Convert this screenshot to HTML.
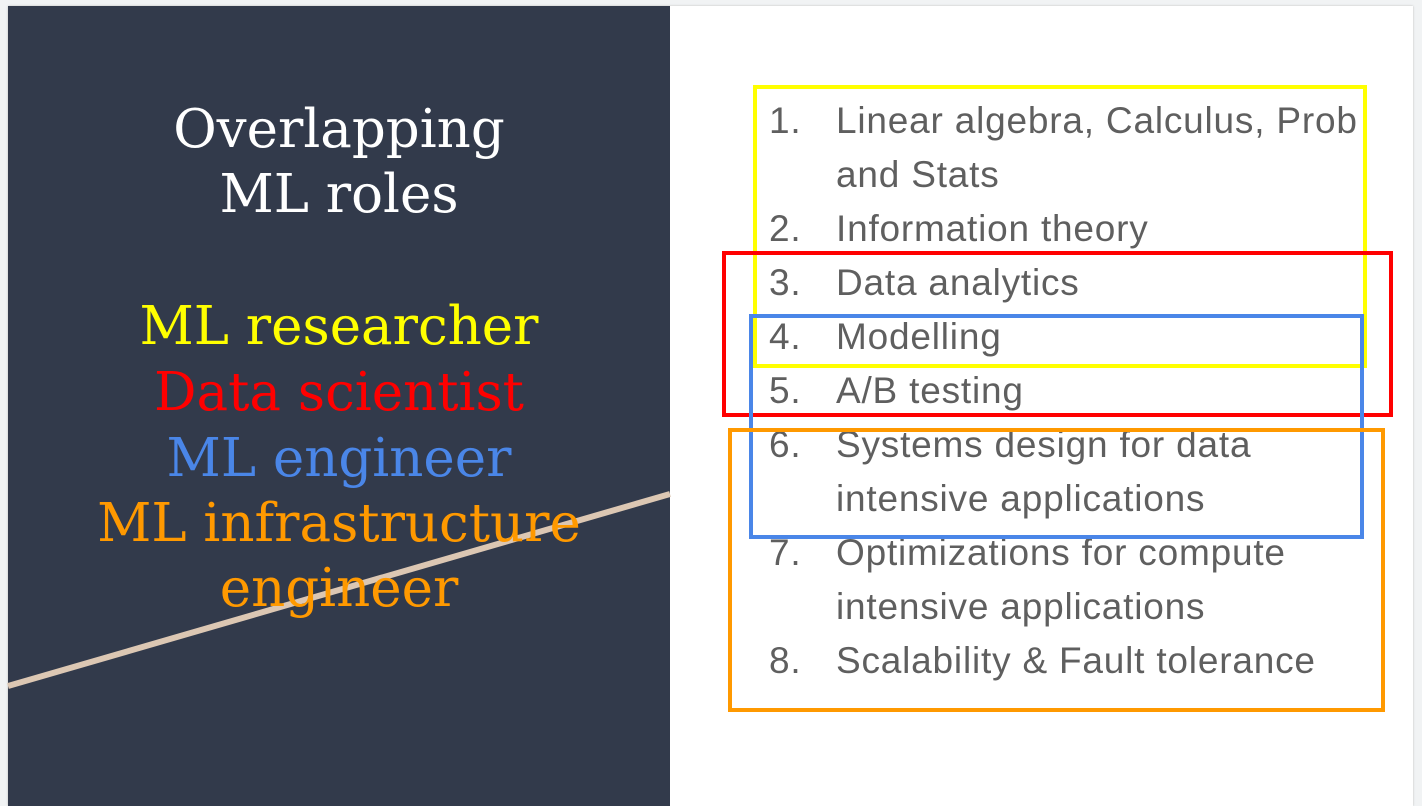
<!DOCTYPE html>
<html><head><meta charset="utf-8"><style>
html,body{margin:0;padding:0;width:1422px;height:796px;overflow:hidden;background:#f1f3f4;}
.slide{position:absolute;left:8px;top:6px;width:1405px;height:800px;background:#fff;box-shadow:0 0 2px #bbb;}
.dark{position:absolute;left:8px;top:6px;width:662px;height:800px;background:#323a4b;}
.l{position:absolute;left:8px;width:662px;text-align:center;font-family:"DejaVu Serif","Liberation Serif",serif;font-size:53px;line-height:60px;height:60px;white-space:nowrap;}
.r{position:absolute;font-family:"Liberation Sans",Arial,sans-serif;font-size:37px;letter-spacing:0.8px;line-height:44px;height:44px;color:#5f5f5f;white-space:nowrap;}
.n{left:769px}.t{left:836px}
.box{position:absolute;border:4px solid;box-sizing:border-box;}
</style></head><body>
<div class="slide"></div>
<div class="dark"></div>
<svg style="position:absolute;left:0;top:0" width="1422" height="796"><line x1="8" y1="686" x2="670" y2="494" stroke="#dcc7b3" stroke-width="6"/></svg>
<div class="l" style="top:100px;color:#fff">Overlapping</div>
<div class="l" style="top:165px;color:#fff">ML roles</div>
<div class="l" style="top:297px;color:#ffff00">ML researcher</div>
<div class="l" style="top:363px;color:#ff0000">Data scientist</div>
<div class="l" style="top:429px;color:#4a86e8">ML engineer</div>
<div class="l" style="top:494px;color:#ff9900">ML infrastructure</div>
<div class="l" style="top:559px;color:#ff9900">engineer</div>

<div class="r n" style="top:99px">1.</div><div class="r t" style="top:99px">Linear algebra, Calculus, Prob</div>
<div class="r t" style="top:153px">and Stats</div>
<div class="r n" style="top:207px">2.</div><div class="r t" style="top:207px">Information theory</div>
<div class="r n" style="top:261px">3.</div><div class="r t" style="top:261px">Data analytics</div>
<div class="r n" style="top:315px">4.</div><div class="r t" style="top:315px">Modelling</div>
<div class="r n" style="top:369px">5.</div><div class="r t" style="top:369px">A/B testing</div>
<div class="r n" style="top:423px">6.</div><div class="r t" style="top:423px">Systems design for data</div>
<div class="r t" style="top:477px">intensive applications</div>
<div class="r n" style="top:531px">7.</div><div class="r t" style="top:531px">Optimizations for compute</div>
<div class="r t" style="top:585px">intensive applications</div>
<div class="r n" style="top:639px">8.</div><div class="r t" style="top:639px">Scalability &amp; Fault tolerance</div>

<div class="box" style="left:753px;top:85px;width:614px;height:283px;border-color:#ffff00"></div>
<div class="box" style="left:722px;top:251px;width:671px;height:166px;border-color:#ff0000"></div>
<div class="box" style="left:749px;top:314px;width:615px;height:225px;border-color:#4a86e8"></div>
<div class="box" style="left:728px;top:428px;width:657px;height:284px;border-color:#ff9900"></div>
</body></html>
